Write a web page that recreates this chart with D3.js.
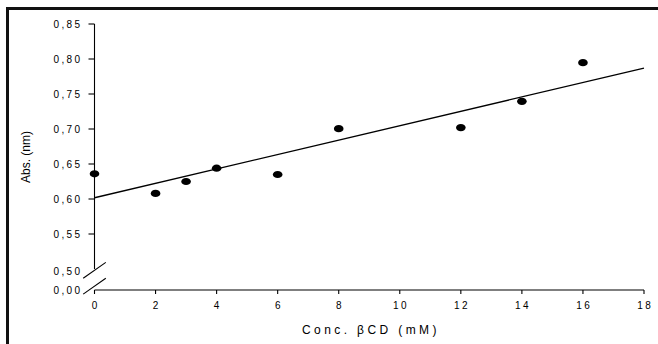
<!DOCTYPE html>
<html><head><meta charset="utf-8">
<script src="https://cdn.jsdelivr.net/npm/d3@7"></script>
<style>
html,body{margin:0;padding:0;background:#fff;}
svg text{font-family:Arial,"Liberation Sans",sans-serif;fill:#000;}
</style></head>
<body>
<svg id="chart" width="658" height="344"></svg>
<script>
// Data
const concX = [0, 2, 3, 4, 6, 8, 12, 14, 16];
const absY  = [0.636, 0.608, 0.625, 0.644, 0.635, 0.7005, 0.702, 0.7395, 0.7948];
const xTicks = [0, 2, 4, 6, 8, 10, 12, 14, 16, 18];
const yTicks = [0.50, 0.55, 0.60, 0.65, 0.70, 0.75, 0.80, 0.85];
const yTickLabels = ["0,50","0,55","0,60","0,65","0,70","0,75","0,80","0,85"];
const yZeroLabel = "0,00";
const xTitle = "Conc. βCD (mM)";
const yTitle = "Abs. (nm)";

const svg = d3.select("#chart");

// Frame (thick black border top & left)
svg.append("line").attr("x1",6).attr("x2",658).attr("y1",8.5).attr("y2",8.5)
  .attr("stroke","#111").attr("stroke-width",3);
svg.append("line").attr("x1",7.5).attr("x2",7.5).attr("y1",7).attr("y2",344)
  .attr("stroke","#111").attr("stroke-width",3);

const x = d3.scaleLinear().domain([0,18]).range([94.5,644]);
const y = d3.scaleLinear().domain([0.50,0.85]).range([269,24]);
const yZero = 290;

const g = svg.append("g");

// Y axis (upper part)
g.append("line").attr("x1",x(0)).attr("x2",x(0)).attr("y1",y(0.85)).attr("y2",y(0.50))
  .attr("stroke","#000").attr("stroke-width",1.1);
g.selectAll(".ytick").data(yTicks.filter(d=>d>0.5)).join("line")
  .attr("x1",x(0)-6).attr("x2",x(0)).attr("y1",d=>y(d)).attr("y2",d=>y(d))
  .attr("stroke","#000").attr("stroke-width",1.1);
g.selectAll(".ylab").data(yTicks).join("text")
  .attr("x",82.5).attr("y",(d,i)=>y(d)+ (i===0?2:0))
  .attr("dy","0.35em").attr("text-anchor","end")
  .style("font-size","10px").style("letter-spacing","2.4px")
  .text((d,i)=>yTickLabels[i]);
g.append("text").attr("x",82.5).attr("y",yZero).attr("dy","0.35em")
  .attr("text-anchor","end").style("font-size","10px").style("letter-spacing","2.4px")
  .text(yZeroLabel);

// Break marks
const bdx = 11.3, bdy = 7.9;
[[x(0), y(0.50)+1.3],[x(0), yZero-3.8]].forEach(([cx,cy])=>{
  g.append("line").attr("x1",cx-bdx).attr("y1",cy+bdy).attr("x2",cx+bdx).attr("y2",cy-bdy)
    .attr("stroke","#000").attr("stroke-width",1.1);
});

// X axis
g.append("line").attr("x1",x(0)).attr("x2",x(18)).attr("y1",yZero).attr("y2",yZero)
  .attr("stroke","#000").attr("stroke-width",1.1);
g.selectAll(".xtick").data(xTicks).join("line")
  .attr("x1",d=>x(d)).attr("x2",d=>x(d)).attr("y1",yZero).attr("y2",yZero+4)
  .attr("stroke","#000").attr("stroke-width",1.1);
g.selectAll(".xlab").data(xTicks).join("text")
  .attr("x",d=>x(d)+1.2).attr("y",309)
  .attr("text-anchor","middle").style("font-size","10px").style("letter-spacing","2.4px")
  .text(d=>d);

// Titles
g.append("text").attr("x",(x(0)+x(18))/2+1.7).attr("y",333.5).attr("text-anchor","middle")
  .style("font-size","12px").style("letter-spacing","3.4px").text(xTitle);
g.append("text").attr("transform",`translate(29.5,157) rotate(-90)`).attr("text-anchor","middle")
  .style("font-size","12px").text(yTitle);

// Linear regression from data
const n = concX.length;
const mx = d3.mean(concX), my = d3.mean(absY);
let sxy=0, sxx=0;
for(let i=0;i<n;i++){ sxy += (concX[i]-mx)*(absY[i]-my); sxx += (concX[i]-mx)**2; }
const slope = sxy/sxx, icpt = my - slope*mx;
const fit = [0,18].map(v=>[v, icpt+slope*v]);
g.append("path").datum(fit)
  .attr("d", d3.line().x(d=>x(d[0])).y(d=>y(d[1])))
  .attr("fill","none").attr("stroke","#000").attr("stroke-width",1.3);

// Points
g.selectAll(".pt").data(concX.map((v,i)=>[v,absY[i]])).join("ellipse")
  .attr("cx",d=>x(d[0])).attr("cy",d=>y(d[1])).attr("rx",4.8).attr("ry",3.6)
  .attr("fill","#000");
</script>
</body></html>
